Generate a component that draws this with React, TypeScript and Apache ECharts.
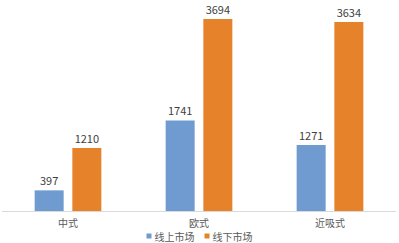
import React, { useEffect, useRef } from "react";
import * as echarts from "echarts";

const categories = ["中式", "欧式", "近吸式"];
const onlineValues = [397, 1741, 1271];
const offlineValues = [1210, 3694, 3634];
const seriesNames = ["线上市场", "线下市场"];

export default function App() {
  const ref = useRef<HTMLDivElement>(null);
  useEffect(() => {
    const chart = echarts.init(ref.current!, null, { renderer: "svg" });
    const font = "'Noto Sans CJK SC', 'Noto Sans', sans-serif";
    const label = {
      show: true,
      position: "top" as const,
      distance: 4,
      color: "#404040",
      fontSize: 11,
      lineHeight: 12,
      fontFamily: font,
    };
    chart.setOption({
      animation: false,
      backgroundColor: "#ffffff",
      grid: { left: 2.5, right: 3.5, top: 3, bottom: 32 },
      legend: {
        data: seriesNames,
        bottom: -3,
        left: "center",
        itemWidth: 5,
        itemHeight: 5,
        itemGap: 10,
        icon: "rect",
        textStyle: { fontSize: 10, color: "#595959", fontFamily: font, padding: [0, 0, 0, -2] },
      },
      xAxis: {
        type: "category",
        data: categories,
        axisLine: { lineStyle: { color: "#D9D9D9" } },
        axisTick: { show: false },
        axisLabel: { fontSize: 10, color: "#595959", fontFamily: font, margin: 6 },
      },
      yAxis: {
        type: "value",
        min: 0,
        max: 4000,
        show: false,
        splitLine: { show: false },
      },
      series: [
        {
          name: seriesNames[0],
          type: "bar",
          data: onlineValues,
          barWidth: 29,
          barGap: "30%",
          itemStyle: { color: "#6F9BD1" },
          label,
        },
        {
          name: seriesNames[1],
          type: "bar",
          data: offlineValues,
          barWidth: 29,
          barGap: "30%",
          itemStyle: { color: "#E5822A" },
          label,
        },
      ],
    });
    return () => chart.dispose();
  }, []);
  return <div ref={ref} style={{ width: 399, height: 243, position: "absolute", left: 0, top: 0 }} />;
}
